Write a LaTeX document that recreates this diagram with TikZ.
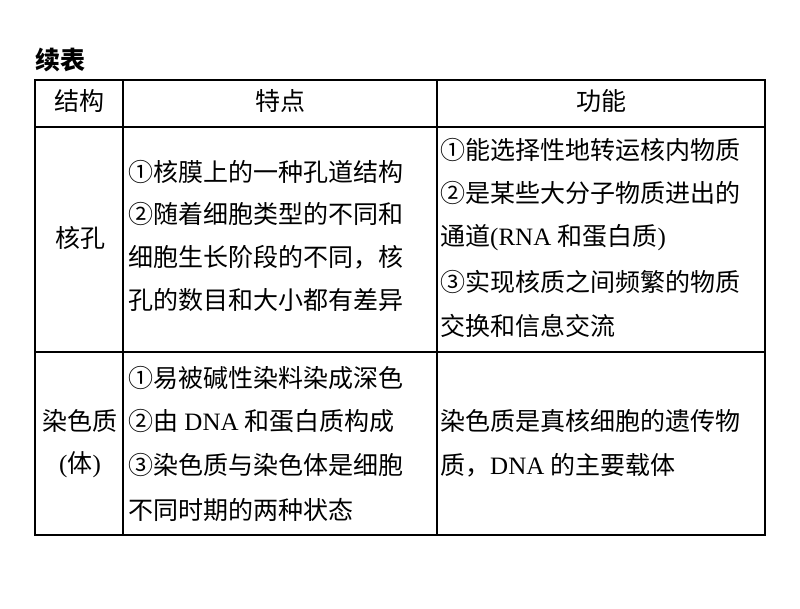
\documentclass[tikz,border=0pt]{standalone}
\usepackage{fontspec}
\setmainfont{Liberation Serif}
\newfontfamily\cjk{Noto Sans CJK SC}
\newcommand{\zh}[1]{{\cjk #1}}
\begin{document}
\begin{tikzpicture}[x=1pt, y=-1pt,
    txt/.style={anchor=west, inner sep=0pt, font=\fontsize{25}{30}\selectfont},
    mid/.style={inner sep=0pt, font=\fontsize{25}{30}\selectfont}]
    \useasboundingbox (0,0) rectangle (800,608);
    \node[txt] (title) at (35,60) {\zh{\bfseries 续表}};
    % table rules
    \draw[line width=1.5pt] (35,80) rectangle (765,535);
    \draw[line width=1.5pt] (35,127) -- (765,127);
    \draw[line width=1.5pt] (35,352) -- (765,352);
    \draw[line width=1.5pt] (123,80) -- (123,535);
    \draw[line width=1.5pt] (437,80) -- (437,535);
    % header
    \node[mid] (h1) at (79,101) {\zh{结构}};
    \node[mid] (h2) at (280,101) {\zh{特点}};
    \node[mid] (h3) at (601,101) {\zh{功能}};
    % row 1
    \node[mid] (r1) at (80,238) {\zh{核孔}};
    \node[txt] (a1) at (128,172) {\zh{①核膜上的一种孔道结构}};
    \node[txt] (a2) at (128,214) {\zh{②随着细胞类型的不同和}};
    \node[txt] (a3) at (128,257) {\zh{细胞生长阶段的不同，核}};
    \node[txt] (a4) at (128,300) {\zh{孔的数目和大小都有差异}};
    \node[txt] (b1) at (440,150) {\zh{①能选择性地转运核内物质}};
    \node[txt] (b2) at (440,193) {\zh{②是某些大分子物质进出的}};
    \node[txt] (b3) at (440,238) {\zh{通道}(RNA \zh{和蛋白质})};
    \node[txt] (b4) at (440,282) {\zh{③实现核质之间频繁的物质}};
    \node[txt] (b5) at (440,326) {\zh{交换和信息交流}};
    % row 2
    \node[mid] (r2) at (80,421) {\zh{染色质}};
    \node[mid] (r2b) at (80,465) {(\zh{体})};
    \node[txt] (c1) at (128,378) {\zh{①易被碱性染料染成深色}};
    \node[txt] (c2) at (128,421) {\zh{②由} DNA \zh{和蛋白质构成}};
    \node[txt] (c3) at (128,465) {\zh{③染色质与染色体是细胞}};
    \node[txt] (c4) at (128,510) {\zh{不同时期的两种状态}};
    \node[txt] (d1) at (440,421) {\zh{染色质是真核细胞的遗传物}};
    \node[txt] (d2) at (440,465) {\zh{质，}DNA \zh{的主要载体}};
\end{tikzpicture}
\end{document}
